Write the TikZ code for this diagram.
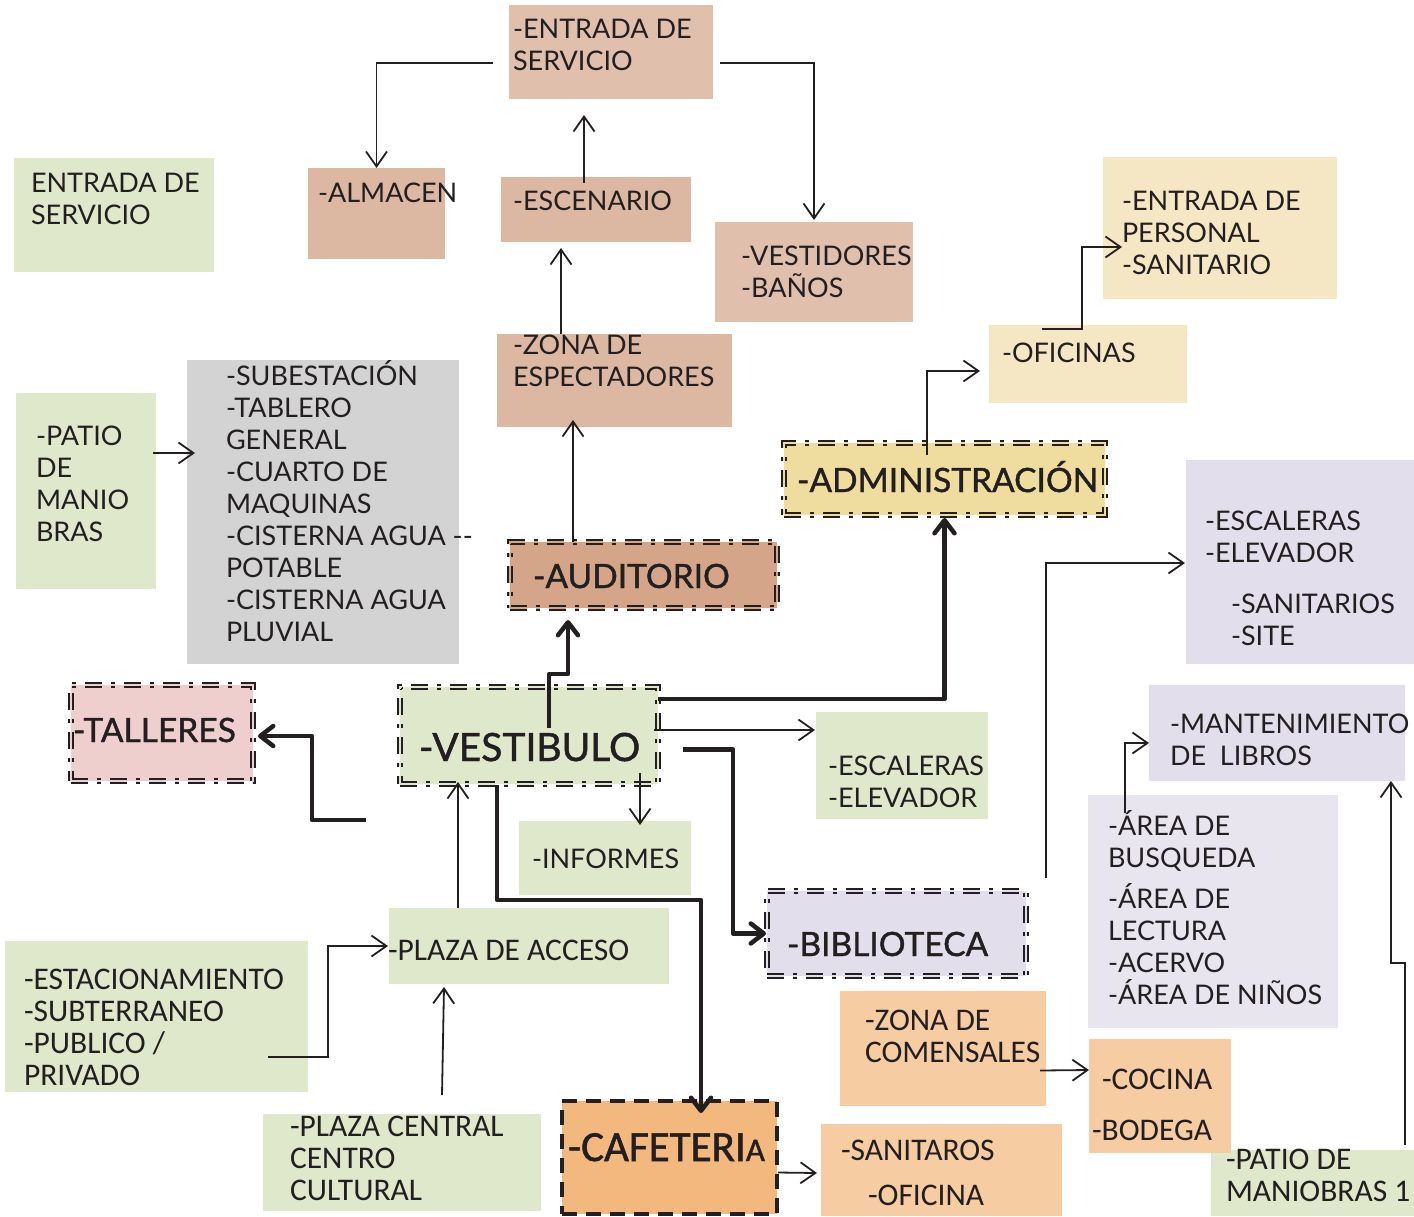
\documentclass[tikz,border=0pt]{standalone}
\usepackage{fontspec}
\setmainfont{Lato}
\newfontfamily\medf[FakeBold=1.2]{Lato}
\newfontfamily\carl{Carlito}
\newfontfamily\carlmed[FakeBold=1.2]{Carlito}
\usetikzlibrary{arrows.meta,calc}
\definecolor{ink}{HTML}{231F20}
\definecolor{cGreen}{HTML}{E0E8CB}
\definecolor{cRose}{HTML}{E0C0AD}
\definecolor{cRoseB}{HTML}{DCB8A3}
\definecolor{cAud}{HTML}{D4A588}
\definecolor{cYel}{HTML}{F5E7C4}
\definecolor{cAdm}{HTML}{EFDDA0}
\definecolor{cGray}{HTML}{D3D3D3}
\definecolor{cLil}{HTML}{E3DEEC}
\definecolor{cLilL}{HTML}{E9E5EF}
\definecolor{cPink}{HTML}{EFCFCD}
\definecolor{cOr}{HTML}{F6CDA3}
\definecolor{cCafe}{HTML}{F2B87E}
\begin{document}
\begin{tikzpicture}[x=1pt,y=-1pt,
  box/.style={rectangle, inner sep=0, outer sep=0, anchor=north west, draw=none},
  ddb/.style={draw=ink, line width=1.4pt, double=#1, double distance=2.4pt,
    dash pattern=on 17pt off 9pt on 4pt off 9pt},
  cafeb/.style={draw=ink, line width=4.5pt, dash pattern=on 15pt off 9pt},
  t/.style={inner sep=0, outer sep=0, anchor=base west, align=left, text=ink,
    font=\fontsize{27}{32}\selectfont},
  tc/.style={t, font=\carl\fontsize{31.5}{31.7}\selectfont},
  tb/.style={t, font=\medf\fontsize{33.5}{33.5}\selectfont},
  tv/.style={t, font=\medf\fontsize{39}{39}\selectfont},
  tcb/.style={t, font=\carlmed\fontsize{43}{43}\selectfont},
  thinc/.style={draw=ink, line width=1.8pt,
    -{Straight Barb[length=15pt,width=21pt]}},
  thickc/.style={draw=ink, line width=4.5pt, line join=round,
    -{Straight Barb[length=13pt,width=20pt,line cap=round,line join=round]}}
]
\useasboundingbox (0,0) rectangle (1414,1216);

% ---------- boxes ----------
\node[box, fill=cGreen, minimum width=200, minimum height=114] (es1) at (14,158) {};
\node[box, fill=cRose, minimum width=204, minimum height=94] (es2) at (509,5) {};
\node[box, fill=cRoseB, minimum width=137, minimum height=91] (alm) at (308,168) {};
\node[box, fill=cRoseB, minimum width=190, minimum height=65] (esc) at (501,177) {};
\node[box, fill=cRose, minimum width=198, minimum height=100] (ves) at (715,222) {};
\node[box, fill=cRoseB, minimum width=235, minimum height=93] (zona) at (497,334) {};
\node[box, fill=cYel, minimum width=234, minimum height=142] (ep) at (1103,157) {};
\node[box, fill=cYel, minimum width=198, minimum height=78] (ofi) at (989,325) {};
\node[box, fill=cGreen, minimum width=140, minimum height=196] (patio) at (16,393) {};
\node[box, fill=cGray, minimum width=272, minimum height=304] (gray) at (187,360) {};
\node[box, fill=cAdm, ddb=cAdm, minimum width=321, minimum height=72] (admin) at (784,443) {};
\node[box, fill=cAud, ddb=cAud, minimum width=267, minimum height=66] (aud) at (510,542) {};
\node[box, fill=cLil, minimum width=228, minimum height=204] (escP) at (1186,460) {};
\node[box, fill=cPink, ddb=cPink, minimum width=182, minimum height=96] (tall) at (71,685) {};
\node[box, fill=cGreen, ddb=cGreen, minimum width=258, minimum height=97] (vest) at (400,687) {};
\node[box, fill=cGreen, minimum width=172, minimum height=107] (escG) at (816,712) {};
\node[box, fill=cGreen, minimum width=172, minimum height=74] (inf) at (519,821) {};
\node[box, fill=cLil, minimum width=256, minimum height=96] (mant) at (1149,685) {};
\node[box, fill=cLilL, minimum width=250, minimum height=233] (area) at (1088,795) {};
\node[box, fill=cLil, ddb=cLil, minimum width=259, minimum height=85] (bib) at (767,891) {};
\node[box, fill=cGreen, minimum width=280, minimum height=76] (plaza) at (389,908) {};
\node[box, fill=cGreen, minimum width=303, minimum height=151] (estac) at (5,941) {};
\node[box, fill=cGreen, minimum width=278, minimum height=97] (pcen) at (263,1114) {};
\node[box, fill=cOr, minimum width=206, minimum height=115] (zcom) at (840,991) {};
\node[box, fill=cOr, minimum width=241, minimum height=92] (san) at (821,1124) {};
\node[box, fill=cGreen, minimum width=203, minimum height=66] (pat1) at (1211,1150) {};
\node[box, fill=cOr, minimum width=142, minimum height=114] (coc) at (1089,1039) {};
\node[box, fill=cCafe, cafeb, minimum width=215, minimum height=113] (cafe) at (562,1101) {};

% ---------- thin connectors ----------
\draw[thinc] ($(es2.west)+(-16,11)$) -| (alm.north);
\draw[thinc] ($(es2.east)+(7,11)$) -| ($(ves.north)+(0,-2)$);
\draw[thinc] ($(esc.north west)+(83,6)$) -- ($(es2.south west)+(75,16)$);
\draw[thinc] ($(zona.north west)+(64,0)$) -- ($(esc.south west)+(60,6)$);
\draw[thinc] ($(aud.north west)+(63,0)$) -- ($(zona.south west)+(76,-7)$);
\draw[thinc] ($(admin.north west)+(143,12)$) |- ($(ofi.west)+(-9,7)$);
\draw[thinc] ($(ofi.north west)+(53,4)$) -| ($(ep.north west)+(-21,90)$) -- ($(ep.north west)+(19,90)$);
\draw[thinc] ($(patio.east)+(-3,-38)$) -- ($(gray.west)+(8,-59)$);
\draw[thinc] ($(vest.north east)+(-4,43)$) -- ($(escG.north west)+(-1,18)$);
\draw[thinc] ($(vest.south east)+(-18,-11)$) -- ($(inf.north west)+(121,4)$);
\draw[thinc] ($(plaza.north west)+(69,0)$) -- ($(vest.south west)+(58,-2)$);
\draw[thinc] ($(estac.south east)+(-40,-35)$) -| ($(plaza.west)+(-61,0)$) -- ($(plaza.west)+(-1,0)$);
\draw[thinc] ($(pcen.north west)+(179,-19)$) -- ($(plaza.south west)+(55,3)$);
\draw[thinc] ($(zcom.east)+(-6,22)$) -- ($(coc.west)+(0,-26)$);
\draw[thinc] ($(cafe.east)+(1,15)$) -- ($(san.west)+(-4,3)$);
\draw[thinc] ($(area.north west)+(-42,83)$) |- ($(escP.west)+(-1,1)$);
\draw[thinc] ($(area.north west)+(37,18)$) |- ($(mant.west)+(0,10)$);
\draw[thinc] ($(pat1.north east)+(-9,-5)$) -- ($(mant.south east)+(0,182)$)
  -- ($(mant.south east)+(-14,182)$) -- ($(mant.south east)+(-14,0)$);

% ---------- thick connectors ----------
\draw[thickc] ($(vest.north west)+(149,41)$) |- ($(aud.south west)+(58,66)$) -- ($(aud.south west)+(58,12)$);
\draw[thickc] ($(vest.north east)+(0,12)$) -| ($(admin.south)+(0,3)$);
\draw[thickc] ($(vest.east)+(25,14)$) -| ($(bib.west)+(-34,0)$) -- ($(bib.west)+(-1,0)$);
\draw[thickc] ($(vest.south west)+(97,1)$) |- ($(cafe.north west)+(139,-201)$) -- ($(cafe.north west)+(139,12)$);
\draw[thickc] ($(vest.south west)+(-34,36)$) -| ($(tall.east)+(59,3)$) -- ($(tall.east)+(5,3)$);

% ---------- texts (y = baseline of the last line) ----------
\node[t] (es1-t) at (31,224) {ENTRADA DE\\SERVICIO};
\node[t] (es2-t) at (513,70) {-ENTRADA DE\\SERVICIO};
\node[t] (alm-t) at (318,202) {-ALMACEN};
\node[t] (esc-t) at (513,210) {-ESCENARIO};
\node[t] (ves-t) at (741,297) {-VESTIDORES\\-BAÑOS};
\node[t] (zona-t) at (513,386) {-ZONA DE\\ESPECTADORES};
\node[t] (ep-t) at (1122,274) {-ENTRADA DE\\PERSONAL\\-SANITARIO};
\node[t] (ofi-t) at (1002,362) {-OFICINAS};
\node[t] (patio-t) at (36,541) {-PATIO\\DE\\MANIO\\BRAS};
\node[t] (gray-t) at (226,641) {-SUBESTACIÓN\\-TABLERO\\GENERAL\\-CUARTO DE\\MAQUINAS\\-CISTERNA AGUA -{}-\\POTABLE\\-CISTERNA AGUA\\PLUVIAL};
\node[tb] (admin-t) at (797,492) {-ADMINISTRACIÓN};
\node[tb] (aud-t) at (533,588) {-AUDITORIO};
\node[t] (escP-t1) at (1205,562) {-ESCALERAS\\-ELEVADOR};
\node[t] (escP-t2) at (1231,645) {-SANITARIOS\\-SITE};
\node[tb] (tall-t) at (73,742) {-TALLERES};
\node[tv] (vest-t) at (419,761) {-VESTIBULO};
\node[t] (escG-t) at (828,807) {-ESCALERAS\\-ELEVADOR};
\node[t] (inf-t) at (532,868) {-INFORMES};
\node[t] (mant-t) at (1170,765) {-MANTENIMIENTO\\DE\ \ LIBROS};
\node[t] (area-t1) at (1108,867) {-ÁREA DE\\BUSQUEDA};
\node[t] (area-t2) at (1108,1004) {-ÁREA DE\\LECTURA\\-ACERVO\\-ÁREA DE NIÑOS};
\node[tb] (bib-t) at (787,956) {-BIBLIOTECA};
\node[tc] (plaza-t) at (388,960) {-PLAZA DE ACCESO};
\node[tc] (estac-t) at (24,1085) {-ESTACIONAMIENTO\\-SUBTERRANEO\\-PUBLICO /\\PRIVADO};
\node[tc] (pcen-t) at (290,1200) {-PLAZA CENTRAL\\CENTRO\\CULTURAL};
\node[tcb] (cafe-t) at (568,1161) {-CAFETERI{\fontsize{33}{33}\selectfont A}};
\node[tc] (zcom-t) at (865,1062) {-ZONA DE\\COMENSALES};
\node[tc] (coc-t1) at (1102,1089) {-COCINA};
\node[tc] (coc-t2) at (1092,1140) {-BODEGA};
\node[tc] (san-t1) at (841,1160) {-SANITAROS};
\node[tc] (san-t2) at (868,1205) {-OFICINA};
\node[tc] (pat1-t) at (1226,1201) {-PATIO DE\\MANIOBRAS 1};
\end{tikzpicture}
\end{document}
